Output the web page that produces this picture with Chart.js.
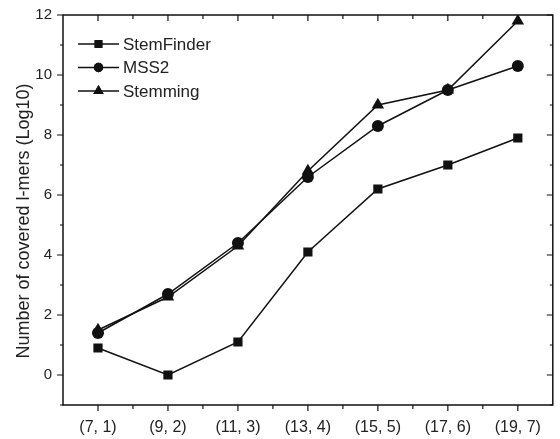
<!DOCTYPE html>
<html>
<head>
<meta charset="utf-8">
<script src="https://cdn.jsdelivr.net/npm/chart.js@4"></script>
<style>
  html, body { margin: 0; padding: 0; background: #fff; }
  #wrap { width: 560px; height: 439px; }
</style>
</head>
<body>
<div id="wrap"><canvas id="chart"></canvas></div>
<script>
// values
const categories = ["(7, 1)", "(9, 2)", "(11, 3)", "(13, 4)", "(15, 5)", "(17, 6)", "(19, 7)"];
const stemFinder = [0.9, 0.0, 1.1, 4.1, 6.2, 7.0, 7.9];
const mss2 = [1.4, 2.7, 4.4, 6.6, 8.3, 9.5, 10.3];
const stemming = [1.5, 2.6, 4.3, 6.8, 9.0, 9.5, 11.8];
const seriesNames = ["StemFinder", "MSS2", "Stemming"];
const yTicks = [0, 2, 4, 6, 8, 10, 12];
const yTitle = "Number of covered l-mers (Log10)";

const ink = "#111";
const fontFamily = "'Liberation Sans', Arial, sans-serif";

const makeSet = (label, data, style, radius, legendRadius) => ({
	label: label,
	data: data,
	borderColor: ink,
	backgroundColor: ink,
	borderWidth: 1.5,
	pointStyle: style,
	pointRadius: radius,
	pointHoverRadius: radius,
	pointBorderWidth: 0,
	tension: 0,
	legendRadius: legendRadius,
});

// frame, tick marks, axis title and in-plot legend
const framePlugin = {
	id: "frame",
	afterDraw(chart) {
		const ctx = chart.ctx;
		const a = chart.chartArea;
		const xs = chart.scales.x;
		const ys = chart.scales.y;
		ctx.save();
		ctx.strokeStyle = ink;
		ctx.lineWidth = 1.5;
		ctx.strokeRect(a.left, a.top, a.right - a.left, a.bottom - a.top);

		ctx.lineWidth = 1.2;
		ctx.beginPath();
		// y ticks: majors every 2, minors on odd values
		for (let v = ys.min; v <= ys.max; v++) {
			const py = ys.getPixelForValue(v);
			const len = v % 2 === 0 ? 6 : 3;
			ctx.moveTo(a.left - len, py);
			ctx.lineTo(a.left, py);
			ctx.moveTo(a.right, py);
			ctx.lineTo(a.right - len, py);
		}
		// x ticks: majors at categories, minors between them
		const step = xs.getPixelForValue(1) - xs.getPixelForValue(0);
		categories.forEach((c, i) => {
			const px = xs.getPixelForValue(i);
			ctx.moveTo(px, a.bottom);
			ctx.lineTo(px, a.bottom + 6);
			ctx.moveTo(px, a.top);
			ctx.lineTo(px, a.top + 6);
			if (i < categories.length - 1) {
				const mx = px + step / 2;
				ctx.moveTo(mx, a.bottom);
				ctx.lineTo(mx, a.bottom + 4);
				ctx.moveTo(mx, a.top);
				ctx.lineTo(mx, a.top + 4);
			}
		});
		ctx.stroke();

		// y axis title, sits a little below the middle in the original
		ctx.save();
		ctx.translate(29, (a.top + a.bottom) / 2 + 11);
		ctx.rotate(-Math.PI / 2);
		ctx.font = "18px " + fontFamily;
		ctx.fillStyle = "#222";
		ctx.textAlign = "center";
		ctx.textBaseline = "alphabetic";
		ctx.fillText(yTitle, 0, 0);
		ctx.restore();

		// legend
		const lx = a.left + 15;
		const ly = a.top + 29;
		const rowH = 23.5;
		ctx.font = "17px " + fontFamily;
		ctx.textBaseline = "middle";
		chart.data.datasets.forEach((ds, i) => {
			const y = ly + i * rowH;
			ctx.strokeStyle = ink;
			ctx.lineWidth = 1.5;
			ctx.beginPath();
			ctx.moveTo(lx, y);
			ctx.lineTo(lx + 41, y);
			ctx.stroke();
			Chart.helpers.drawPoint(ctx, {
				pointStyle: ds.pointStyle,
				radius: ds.legendRadius,
				borderWidth: 0,
			}, lx + 20.5, y);
			ctx.fillStyle = ink;
			ctx.fill();
			ctx.fillStyle = "#222";
			ctx.fillText(seriesNames[i], lx + 45, y + 1);
		});
		ctx.restore();
	},
};

new Chart(document.getElementById("chart"), {
	type: "line",
	data: {
		labels: categories,
		datasets: [
			makeSet(seriesNames[0], stemFinder, "rect", 6.5, 5.5),
			makeSet(seriesNames[1], mss2, "circle", 6, 4.7),
			makeSet(seriesNames[2], stemming, "triangle", 7.2, 6),
		],
	},
	options: {
		responsive: true,
		maintainAspectRatio: false,
		animation: false,
		layout: { padding: { top: 15, right: 6, left: 0, bottom: 0 } },
		plugins: {
			legend: { display: false },
			tooltip: { enabled: false },
		},
		scales: {
			x: {
				type: "category",
				offset: true,
				grid: { display: false, drawTicks: false },
				border: { display: false },
				ticks: {
					color: "#222",
					padding: 13,
					maxRotation: 0,
					autoSkip: false,
					font: { family: fontFamily, size: 16 },
				},
				afterFit(scale) {
					scale.height = 34;
					scale.paddingLeft = 0;
					scale.paddingRight = 0;
				},
			},
			y: {
				min: -1,
				max: 12,
				grid: { display: false, drawTicks: false },
				border: { display: false },
				ticks: {
					stepSize: 1,
					color: "#222",
					padding: 11,
					font: { family: fontFamily, size: 15 },
					callback: (v) => (yTicks.includes(v) ? v : ""),
				},
				afterFit(scale) {
					scale.width = 63;
					scale.paddingTop = 0;
					scale.paddingBottom = 0;
				},
			},
		},
	},
	plugins: [framePlugin],
});
</script>
</body>
</html>
